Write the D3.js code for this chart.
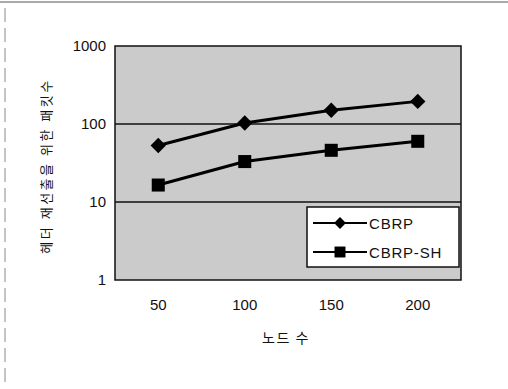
<!DOCTYPE html>
<html>
<head>
<meta charset="utf-8">
<script src="https://cdn.jsdelivr.net/npm/d3@7"></script>
<style>
  html, body { margin: 0; padding: 0; background: #fff; }
  svg text { font-family: "Liberation Sans", Arial, "Noto Sans CJK KR", sans-serif; fill: #111; }
</style>
</head>
<body>
<svg id="chart" width="508" height="389"></svg>
<script>
// data
const nodeCounts = ['50', '100', '150', '200'];
const cbrp = [53, 103, 150, 195];
const cbrpSh = [16.5, 33, 46, 60];
const yTicks = [1, 10, 100, 1000];
const seriesNames = ['CBRP', 'CBRP-SH'];

const svg = d3.select('#chart');
const plot = { left: 115, top: 46, right: 461, bottom: 280 };

// outer scanned frame
svg.append('line')
  .attr('x1', 0).attr('x2', 508).attr('y1', 2).attr('y2', 2)
  .attr('stroke', '#555').attr('stroke-width', 1);
svg.append('line')
  .attr('x1', 5).attr('x2', 5).attr('y1', 8).attr('y2', 385)
  .attr('stroke', '#888').attr('stroke-width', 1)
  .attr('stroke-dasharray', '14,6');

const x = d3.scaleBand()
  .domain(nodeCounts)
  .range([plot.left, plot.right]);

const y = d3.scaleLog()
  .domain([1, 1000])
  .range([plot.bottom, plot.top]);

// plot background
svg.append('rect')
  .attr('x', plot.left).attr('y', plot.top)
  .attr('width', plot.right - plot.left)
  .attr('height', plot.bottom - plot.top)
  .attr('fill', '#cbcbcb');

// gridlines
svg.append('g')
  .selectAll('line')
  .data(yTicks.slice(1, -1))
  .join('line')
  .attr('x1', plot.left).attr('x2', plot.right)
  .attr('y1', d => y(d)).attr('y2', d => y(d))
  .attr('stroke', '#111').attr('stroke-width', 1.5);

// border
svg.append('rect')
  .attr('x', plot.left).attr('y', plot.top)
  .attr('width', plot.right - plot.left)
  .attr('height', plot.bottom - plot.top)
  .attr('fill', 'none')
  .attr('stroke', '#111').attr('stroke-width', 1.5);

// y axis labels
const yAxis = d3.axisLeft(y)
  .tickValues(yTicks)
  .tickFormat(d3.format('d'))
  .tickSize(0)
  .tickPadding(9);
svg.append('g')
  .attr('transform', `translate(${plot.left},0)`)
  .call(yAxis)
  .call(g => g.select('.domain').remove())
  .selectAll('text')
  .style('font-size', '15px');

// x axis labels
const xAxis = d3.axisBottom(x)
  .tickSize(0)
  .tickPadding(19);
svg.append('g')
  .attr('transform', `translate(0,${plot.bottom})`)
  .call(xAxis)
  .call(g => g.select('.domain').remove())
  .selectAll('text')
  .style('font-size', '15px');

// axis titles
svg.append('text')
  .attr('x', 286).attr('y', 343)
  .attr('text-anchor', 'middle')
  .style('font-size', '14px')
  .style('letter-spacing', '1.5px')
  .style('font-family', '"Noto Sans CJK KR", sans-serif')
  .text('노드 수');

svg.append('text')
  .attr('transform', 'translate(51,166) rotate(-90)')
  .attr('text-anchor', 'middle')
  .style('font-size', '13px')
  .style('letter-spacing', '2.5px')
  .style('font-family', '"Noto Sans CJK KR", sans-serif')
  .text('헤더 재선출을 위한 패킷수');

// series
const line = d3.line()
  .x((v, i) => x(nodeCounts[i]) + x.bandwidth() / 2)
  .y(v => y(v));

const diamond = d3.symbol().type(d3.symbolDiamond2).size(150);
const square = d3.symbol().type(d3.symbolSquare).size(170);

function drawSeries(values, shape) {
  const g = svg.append('g');
  g.append('path')
    .datum(values)
    .attr('d', line)
    .attr('fill', 'none')
    .attr('stroke', '#000')
    .attr('stroke-width', 3)
    .attr('stroke-linejoin', 'round');
  g.selectAll('path.marker')
    .data(values)
    .join('path')
    .attr('class', 'marker')
    .attr('d', shape)
    .attr('fill', '#000')
    .attr('transform', (v, i) => `translate(${x(nodeCounts[i]) + x.bandwidth() / 2},${y(v)})`);
}

drawSeries(cbrp, diamond);
drawSeries(cbrpSh, square);

// legend
const legend = svg.append('g').attr('transform', 'translate(307,207)');
legend.append('rect')
  .attr('width', 152).attr('height', 60)
  .attr('fill', '#fff')
  .attr('stroke', '#111').attr('stroke-width', 1.5);

const legendShapes = [d3.symbol().type(d3.symbolDiamond2).size(90), d3.symbol().type(d3.symbolSquare).size(120)];
seriesNames.forEach((name, i) => {
  const cy = 16 + i * 29;
  legend.append('line')
    .attr('x1', 6).attr('x2', 60).attr('y1', cy).attr('y2', cy)
    .attr('stroke', '#000').attr('stroke-width', 2);
  legend.append('path')
    .attr('d', legendShapes[i])
    .attr('fill', '#000')
    .attr('transform', `translate(33,${cy})`);
  legend.append('text')
    .attr('x', 62).attr('y', cy + 5.5)
    .style('font-size', '15px')
    .style('letter-spacing', '0.8px')
    .text(name);
});
</script>
</body>
</html>
